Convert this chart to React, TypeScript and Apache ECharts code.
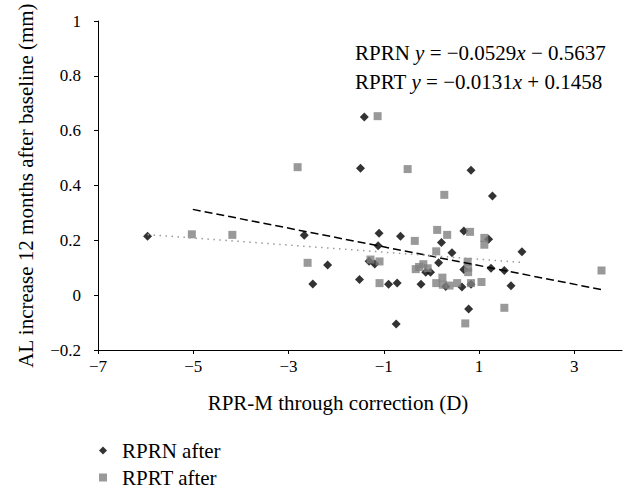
import React, { useEffect, useRef } from "react";
import * as echarts from "echarts";

const xTicks = [-7, -5, -3, -1, 1, 3];

const rprnAfter: [number, number][] = [
  [-5.96, 0.215], [-2.67, 0.219], [-2.49, 0.041], [-2.18, 0.11], [-1.41, 0.65],
  [-1.49, 0.463], [-1.1, 0.226], [-0.65, 0.215], [-1.12, 0.18], [-1.31, 0.124],
  [-1.19, 0.114], [-1.51, 0.057], [-0.9, 0.04], [-0.72, 0.044], [-0.74, -0.105],
  [-0.22, 0.04], [-0.12, 0.084], [-0.02, 0.084], [0.15, 0.118], [0.21, 0.192],
  [0.43, 0.155], [0.3, 0.032], [0.64, 0.03], [0.68, 0.094], [0.68, 0.234],
  [0.83, 0.456], [1.28, 0.362], [1.2, 0.204], [1.9, 0.158], [1.25, 0.098],
  [1.53, 0.09], [1.67, 0.034], [0.83, 0.04], [0.78, -0.05],
];

const rprtAfter: [number, number][] = [
  [-5.03, 0.222], [-4.18, 0.22], [-2.81, 0.467], [-2.6, 0.118], [-1.13, 0.653],
  [-0.5, 0.46], [0.27, 0.366], [-1.28, 0.13], [-1.09, 0.123], [-1.09, 0.044],
  [-0.35, 0.198], [0.12, 0.238], [0.33, 0.22], [0.1, 0.16], [-0.33, 0.095],
  [-0.26, 0.103], [-0.17, 0.113], [-0.08, 0.098], [0.1, 0.044], [0.23, 0.064],
  [0.24, 0.038], [0.38, 0.035], [0.54, 0.044], [0.81, 0.231], [1.11, 0.209],
  [1.11, 0.184], [0.76, 0.122], [0.77, 0.1], [0.77, 0.084], [0.83, 0.044],
  [1.05, 0.048], [0.71, -0.103], [1.53, -0.046], [3.57, 0.09],
];

// trendline endpoints as drawn in the picture
const dashedTrend: [number, number][] = [[-5.01, 0.313], [3.58, 0.02]];
const dottedTrend: [number, number][] = [[-5.96, 0.221], [1.86, 0.12]];

const eqRPRN = ["RPRN ", "y", " = −0.0529", "x", " − 0.5637"];
const eqRPRT = ["RPRT ", "y", " = −0.0131", "x", " + 0.1458"];

const FONT = "'Liberation Serif', 'DejaVu Serif', serif";
const BIG = 21;
const TICK = 17;

const eqText = (parts: string[]) =>
  parts.map((p, i) => (i % 2 === 1 ? `{i|${p}}` : `{n|${p}}`)).join("");

export default function App() {
  const ref = useRef<HTMLDivElement>(null);
  useEffect(() => {
    if (!ref.current) return;
    const chart = echarts.init(ref.current, undefined, { renderer: "svg" });
    const rich = {
      n: { fontFamily: FONT, fontSize: BIG, color: "#000" },
      i: { fontFamily: FONT, fontSize: BIG, fontStyle: "italic", color: "#000" },
    };
    chart.setOption({
      animation: false,
      backgroundColor: "#fff",
      textStyle: { fontFamily: FONT },
      grid: { left: 98, right: 8, top: 15, bottom: 141 },
      xAxis: {
        type: "value",
        min: -7,
        max: 4,
        interval: 2,
        splitLine: { show: false },
        axisLine: { onZero: false, lineStyle: { color: "#000", width: 1 } },
        axisTick: { show: true, length: 4, lineStyle: { color: "#000" }, customValues: xTicks },
        axisLabel: {
          customValues: xTicks,
          margin: 8,
          fontFamily: FONT,
          fontSize: TICK,
          color: "#000",
          formatter: (v: number) => String(v).replace("-", "−"),
        },
      },
      yAxis: {
        type: "value",
        min: -0.2,
        max: 1,
        interval: 0.2,
        splitLine: { show: false },
        name: "AL increase 12 months after baseline (mm)",
        nameLocation: "middle",
        nameGap: 62,
        nameTextStyle: { fontFamily: FONT, fontSize: BIG, color: "#000" },
        axisLine: { show: true, onZero: false, lineStyle: { color: "#000", width: 1 } },
        axisTick: { show: true, length: 4, lineStyle: { color: "#000" } },
        axisLabel: {
          margin: 17,
          fontFamily: FONT,
          fontSize: TICK,
          color: "#000",
          formatter: (v: number) => String(+v.toFixed(1)).replace("-", "−"),
        },
      },
      legend: {
        orient: "vertical",
        left: 99,
        top: 440,
        padding: 0,
        itemWidth: 8,
        itemHeight: 8,
        itemGap: 6,
        textStyle: { fontFamily: FONT, fontSize: BIG, color: "#000", padding: [0, 0, 0, 10] },
        data: [
          { name: "RPRN after", icon: "diamond" },
          { name: "RPRT after", icon: "rect" },
        ],
      },
      graphic: [
        {
          type: "text",
          x: 355,
          y: 53,
          style: { text: eqText(eqRPRN), rich, verticalAlign: "middle" },
        },
        {
          type: "text",
          x: 355,
          y: 82,
          style: { text: eqText(eqRPRT), rich, verticalAlign: "middle" },
        },
        {
          type: "text",
          x: 338,
          y: 403,
          style: {
            text: "RPR-M through correction (D)",
            fontFamily: FONT,
            fontSize: BIG,
            fill: "#000",
            align: "center",
            verticalAlign: "middle",
          },
        },
      ],
      series: [
        {
          name: "RPRN after",
          type: "scatter",
          symbol: "diamond",
          symbolSize: 9,
          itemStyle: { color: "#000" },
          data: rprnAfter,
          z: 2,
        },
        {
          name: "RPRT after",
          type: "scatter",
          symbol: "rect",
          symbolSize: 8,
          itemStyle: { color: "#808080" },
          data: rprtAfter,
          z: 3,
        },
        {
          name: "trend dashed",
          type: "line",
          data: dashedTrend,
          symbol: "none",
          lineStyle: { color: "#000", width: 1.5, type: [8, 4] },
          z: 4,
        },
        {
          name: "trend dotted",
          type: "line",
          data: dottedTrend,
          symbol: "none",
          lineStyle: { color: "#9a9a9a", width: 1.5, type: [1.5, 4.5] },
          z: 4,
        },
      ],
    });
    return () => chart.dispose();
  }, []);
  return (
    <div
      ref={ref}
      style={{ position: "fixed", left: 0, top: 0, width: 630, height: 491 }}
    />
  );
}
